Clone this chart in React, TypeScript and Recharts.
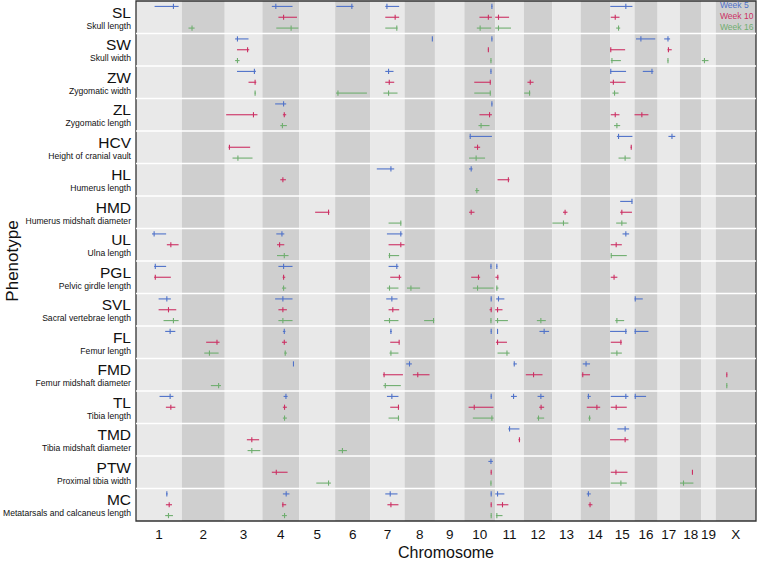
import React from 'react';
import {
  ScatterChart,
  Scatter,
  XAxis,
  YAxis,
  ErrorBar,
  ReferenceArea,
  ReferenceLine,
} from 'recharts';

// Chromosomes and their lengths (Mb)
const chromosomes = ['1', '2', '3', '4', '5', '6', '7', '8', '9', '10', '11', '12', '13', '14', '15', '16', '17', '18', '19', 'X'];
const chromosomeLengths = [195, 182, 160, 157, 152, 150, 145, 129, 125, 131, 122, 120, 121, 125, 104, 98, 95, 91, 61, 171];

const phenotypes = ['SL', 'SW', 'ZW', 'ZL', 'HCV', 'HL', 'HMD', 'UL', 'PGL', 'SVL', 'FL', 'FMD', 'TL', 'TMD', 'PTW', 'MC'];
const phenotypeNames = [
  'Skull length',
  'Skull width',
  'Zygomatic width',
  'Zygomatic length',
  'Height of cranial vault',
  'Humerus length',
  'Humerus midshaft diameter',
  'Ulna length',
  'Pelvic girdle length',
  'Sacral vertebrae length',
  'Femur length',
  'Femur midshaft diameter',
  'Tibia length',
  'Tibia midshaft diameter',
  'Proximal tibia width',
  'Metatarsals and calcaneus length',
];

const weeks = ['Week 5', 'Week 10', 'Week 16'];
const weekColors = ['#4f72c9', '#cc2f63', '#6fae6f'];

// QTL intervals: [phenotype, chromosome, lower Mb, peak Mb, upper Mb]
type Qtl = [string, string, number, number, number];

const week5Qtl: Qtl[] = [
  ['SL', '1', 79, 159, 181], ['SL', '4', 40, 57, 128], ['SL', '6', 5, 71, 78], ['SL', '7', 63, 70, 122], ['SL', '10', 115, 117, 119], ['SL', '15', 1, 67, 95],
  ['SW', '3', 44, 54, 101], ['SW', '8', 117, 118, 120], ['SW', '10', 115, 117, 119], ['SW', '16', 6, 27, 88], ['SW', '17', 28, 44, 53],
  ['ZW', '3', 52, 126, 132], ['ZW', '7', 63, 77, 98], ['ZW', '10', 111, 113, 115], ['ZW', '15', 0, 3, 68], ['ZW', '16', 35, 74, 80],
  ['ZL', '4', 54, 90, 101], ['ZL', '10', 115, 117, 119],
  ['HCV', '10', 22, 25, 117], ['HCV', '15', 29, 36, 95], ['HCV', '17', 46, 61, 75],
  ['HL', '7', 27, 87, 101], ['HL', '10', 20, 29, 35],
  ['HMD', '15', 43, 93, 95],
  ['UL', '1', 68, 77, 128], ['UL', '4', 59, 83, 93], ['UL', '7', 70, 129, 136], ['UL', '15', 53, 67, 81],
  ['PGL', '1', 77, 82, 128], ['PGL', '4', 68, 90, 128], ['PGL', '7', 77, 112, 119], ['PGL', '10', 111, 113, 115], ['PGL', '11', 5, 7, 9],
  ['SVL', '1', 96, 131, 148], ['SVL', '4', 54, 87, 128], ['SVL', '7', 67, 91, 115], ['SVL', '10', 112, 114, 116], ['SVL', '11', 4, 14, 39], ['SVL', '16', 0, 3, 35],
  ['FL', '1', 124, 145, 167], ['FL', '4', 87, 93, 98], ['FL', '7', 83, 87, 91], ['FL', '10', 112, 114, 116], ['FL', '11', 8, 10, 12], ['FL', '12', 66, 86, 107], ['FL', '15', 0, 67, 71], ['FL', '16', 0, 3, 59],
  ['FMD', '4', 130, 132, 134], ['FMD', '8', 7, 21, 31], ['FMD', '11', 78, 81, 92], ['FMD', '14', 9, 23, 40],
  ['TL', '1', 100, 145, 159], ['TL', '4', 90, 100, 107], ['TL', '7', 70, 91, 119], ['TL', '10', 112, 114, 116], ['TL', '11', 67, 78, 92], ['TL', '12', 58, 72, 86], ['TL', '14', 29, 33, 43], ['TL', '15', 3, 67, 78], ['TL', '16', 0, 3, 49],
  ['TMD', '11', 56, 61, 103], ['TMD', '15', 31, 64, 81],
  ['PTW', '10', 102, 113, 121],
  ['MC', '1', 128, 131, 134], ['MC', '4', 87, 101, 115], ['MC', '7', 63, 84, 115], ['MC', '10', 112, 114, 116], ['MC', '11', 0, 10, 39], ['MC', '14', 26, 33, 43],
];

const week10Qtl: Qtl[] = [
  ['SL', '4', 68, 90, 147], ['SL', '7', 63, 105, 122], ['SL', '10', 64, 102, 117], ['SL', '11', 0, 14, 59], ['SL', '15', 3, 22, 40],
  ['SW', '3', 52, 97, 104], ['SW', '10', 100, 102, 104], ['SW', '15', 0, 3, 64], ['SW', '17', 42, 46, 60],
  ['ZW', '3', 101, 129, 134], ['ZW', '7', 63, 80, 101], ['ZW', '10', 42, 110, 113], ['ZW', '12', 15, 27, 41], ['ZW', '15', 0, 14, 66],
  ['ZL', '3', 6, 122, 139], ['ZL', '4', 87, 93, 101], ['ZL', '10', 64, 107, 117], ['ZL', '15', 3, 22, 40], ['ZL', '16', 0, 31, 59],
  ['HCV', '3', 16, 20, 108], ['HCV', '10', 42, 56, 67], ['HCV', '15', 87, 90, 93],
  ['HL', '4', 76, 87, 100], ['HL', '11', 10, 56, 61],
  ['HMD', '5', 67, 124, 128], ['HMD', '10', 20, 29, 43], ['HMD', '13', 46, 55, 65], ['HMD', '15', 43, 50, 93],
  ['UL', '1', 131, 148, 181], ['UL', '4', 62, 73, 93], ['UL', '7', 77, 129, 145], ['UL', '15', 3, 26, 50],
  ['PGL', '1', 77, 82, 148], ['PGL', '4', 86, 90, 97], ['PGL', '7', 84, 123, 131], ['PGL', '10', 29, 60, 67], ['PGL', '11', 1, 11, 14], ['PGL', '15', 3, 17, 31],
  ['SVL', '1', 96, 138, 171], ['SVL', '4', 68, 87, 104], ['SVL', '7', 77, 95, 122], ['SVL', '10', 107, 114, 117], ['SVL', '11', 0, 10, 31],
  ['FL', '2', 103, 149, 160], ['FL', '4', 83, 93, 104], ['FL', '7', 84, 122, 123], ['FL', '11', 3, 10, 50], ['FL', '15', 3, 46, 50],
  ['FMD', '7', 53, 58, 138], ['FMD', '8', 35, 56, 106], ['FMD', '12', 8, 41, 79], ['FMD', '14', 5, 9, 40], ['FMD', 'X', 45, 47, 49],
  ['TL', '1', 127, 148, 167], ['TL', '4', 87, 94, 104], ['TL', '7', 84, 119, 122], ['TL', '10', 18, 42, 124], ['TL', '12', 65, 73, 86], ['TL', '14', 26, 69, 83], ['TL', '15', 3, 26, 71],
  ['TMD', '3', 94, 115, 146], ['TMD', '11', 99, 103, 106], ['TMD', '15', 0, 64, 78],
  ['PTW', '4', 40, 59, 107], ['PTW', '10', 112, 114, 116], ['PTW', '15', 3, 25, 74], ['PTW', '18', 51, 53, 55],
  ['MC', '1', 127, 141, 153], ['MC', '4', 83, 87, 101], ['MC', '7', 72, 87, 119], ['MC', '10', 112, 114, 116], ['MC', '11', 7, 31, 56], ['MC', '14', 33, 40, 50],
];

const week16Qtl: Qtl[] = [
  ['SL', '2', 28, 43, 54], ['SL', '4', 59, 122, 153], ['SL', '7', 63, 112, 115], ['SL', '10', 53, 67, 114], ['SL', '11', 0, 14, 67], ['SL', '15', 26, 36, 43],
  ['SW', '3', 44, 54, 63], ['SW', '10', 111, 113, 115], ['SW', '15', 3, 8, 46], ['SW', '17', 42, 44, 46], ['SW', '19', 2, 13, 30],
  ['ZW', '3', 127, 129, 132], ['ZW', '6', 4, 12, 135], ['ZW', '7', 55, 77, 115], ['ZW', '10', 42, 110, 113], ['ZW', '12', 1, 24, 27], ['ZW', '15', 10, 19, 36],
  ['ZL', '4', 76, 85, 104], ['ZL', '10', 60, 71, 107], ['ZL', '15', 17, 29, 43],
  ['HCV', '3', 33, 56, 118], ['HCV', '10', 20, 50, 88], ['HCV', '15', 36, 64, 87],
  ['HL', '10', 46, 53, 63],
  ['HMD', '7', 77, 129, 131], ['HMD', '13', 1, 48, 69], ['HMD', '15', 26, 50, 71],
  ['UL', '4', 62, 93, 111], ['UL', '7', 77, 81, 122], ['UL', '15', 3, 5, 71],
  ['PGL', '4', 83, 90, 101], ['PGL', '7', 70, 81, 119], ['PGL', '8', 10, 27, 66], ['PGL', '10', 36, 56, 124], ['PGL', '11', 4, 7, 14],
  ['SVL', '1', 117, 159, 181], ['SVL', '4', 68, 87, 128], ['SVL', '7', 58, 81, 119], ['SVL', '8', 83, 123, 126], ['SVL', '10', 111, 113, 115], ['SVL', '11', 0, 10, 54], ['SVL', '12', 55, 72, 93], ['SVL', '15', 22, 29, 60],
  ['FL', '2', 95, 117, 156], ['FL', '4', 93, 97, 104], ['FL', '7', 81, 87, 119], ['FL', '11', 10, 50, 61], ['FL', '15', 3, 29, 50],
  ['FMD', '2', 123, 156, 166], ['FMD', '7', 55, 63, 129], ['FMD', 'X', 45, 47, 49],
  ['TL', '4', 87, 94, 104], ['TL', '7', 77, 119, 122], ['TL', '10', 36, 117, 124], ['TL', '12', 55, 62, 86], ['TL', '14', 33, 38, 43],
  ['TMD', '3', 97, 115, 151], ['TMD', '6', 14, 31, 50],
  ['PTW', '5', 72, 124, 134], ['PTW', '10', 111, 113, 115], ['PTW', '15', 3, 46, 71], ['PTW', '18', 0, 15, 57],
  ['MC', '1', 124, 138, 157], ['MC', '4', 83, 94, 104], ['MC', '10', 112, 114, 116], ['MC', '11', 3, 7, 31],
];

// cumulative chromosome offsets along the genome axis
const chromStart: number[] = [];
chromosomeLengths.forEach((len, i) => {
  chromStart.push(i === 0 ? 0 : chromStart[i - 1] + chromosomeLengths[i - 1]);
});
const genomeLength = chromosomeLengths.reduce((a, b) => a + b, 0);
const chromMid = chromosomes.map((_, i) => chromStart[i] + chromosomeLengths[i] / 2);
const panelCount = phenotypes.length;

const toSeries = (rows: Qtl[], weekIndex: number) =>
  rows.map(([ph, chr, lo, peak, hi]) => {
    const offset = chromStart[chromosomes.indexOf(chr)];
    return {
      x: offset + peak,
      y: phenotypes.indexOf(ph) * 3 + weekIndex + 0.5,
      err: [peak - lo, hi - peak],
    };
  });

const seriesData = [toSeries(week5Qtl, 0), toSeries(week10Qtl, 1), toSeries(week16Qtl, 2)];

const peakShape = (color: string) => (props: any) => (
  <line
    x1={props.cx}
    x2={props.cx}
    y1={props.cy - 2.6}
    y2={props.cy + 2.6}
    stroke={color}
    strokeWidth={1.1}
  />
);

const PhenotypeTick = (props: any) => {
  const { y, payload } = props;
  const i = Math.round((payload.value - 1.5) / 3);
  return (
    <g>
      <text x={131} y={y + 0.5} textAnchor="end" fontSize={15.5} fill="#111">
        {phenotypes[i]}
      </text>
      <text x={131} y={y + 11.5} textAnchor="end" fontSize={8.6} fill="#111">
        {phenotypeNames[i]}
      </text>
    </g>
  );
};

const App: React.FC = () => {
  const yTicks = phenotypes.map((_, i) => i * 3 + 1.5);
  const separators = phenotypes.slice(1).map((_, i) => (i + 1) * 3);

  return (
    <div
      style={{
        position: 'absolute',
        left: 0,
        top: 0,
        width: 757,
        height: 562,
        background: '#fff',
        fontFamily: '"Liberation Sans", Arial, Helvetica, sans-serif',
      }}
    >
      <ScatterChart width={757} height={562} margin={{ top: 1, right: 1, bottom: 0, left: 0 }}>
        <XAxis
          type="number"
          dataKey="x"
          domain={[0, genomeLength]}
          ticks={chromMid}
          interval={0}
          tickFormatter={(v: number) => chromosomes[chromMid.findIndex((m) => Math.abs(m - v) < 0.01)]}
          tick={{ fill: '#111', fontSize: 13.5 }}
          tickLine={false}
          axisLine={false}
          height={41}
          label={{ value: 'Chromosome', position: 'insideBottom', offset: 4, fontSize: 16, fill: '#111' }}
        />
        <YAxis
          type="number"
          dataKey="y"
          domain={[0, panelCount * 3]}
          reversed
          ticks={yTicks}
          interval={0}
          tick={<PhenotypeTick />}
          tickLine={false}
          axisLine={false}
          width={136}
          label={{
            value: 'Phenotype',
            angle: -90,
            position: 'insideLeft',
            offset: 12,
            fontSize: 17,
            fill: '#111',
            style: { textAnchor: 'middle' },
          }}
        />
        {chromosomes.map((c, i) => (
          <ReferenceArea
            key={c}
            x1={chromStart[i]}
            x2={chromStart[i] + chromosomeLengths[i]}
            y1={0}
            y2={panelCount * 3}
            fill={i % 2 === 0 ? '#e9e9e9' : '#cfcfcf'}
            fillOpacity={1}
            stroke="none"
          />
        ))}
        {separators.map((s) => (
          <ReferenceLine key={s} y={s} stroke="#ffffff" strokeWidth={1.5} />
        ))}
        <ReferenceArea
          x1={0}
          x2={genomeLength}
          y1={0}
          y2={panelCount * 3}
          fill="none"
          fillOpacity={0}
          stroke="#333"
          strokeWidth={1.3}
        />
        {weeks.map((w, k) => (
          <Scatter
            key={w}
            name={w}
            data={seriesData[k]}
            shape={peakShape(weekColors[k])}
            isAnimationActive={false}
          >
            <ErrorBar
              dataKey="err"
              direction="x"
              width={0}
              stroke={weekColors[k]}
              strokeWidth={1.1}
              isAnimationActive={false}
            />
          </Scatter>
        ))}
      </ScatterChart>
      <div
        style={{
          position: 'absolute',
          top: 0,
          left: 720,
          textAlign: 'left',
          fontSize: 8.5,
          lineHeight: '11.2px',
        }}
      >
        {weeks.map((w, k) => (
          <div key={w} style={{ color: weekColors[k] }}>
            {w}
          </div>
        ))}
      </div>
    </div>
  );
};

export default App;
